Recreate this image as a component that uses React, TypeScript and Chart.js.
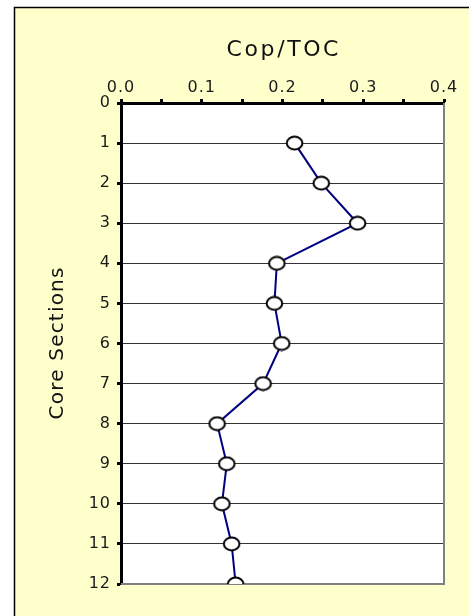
import React, { useEffect, useRef } from 'react';
import { Chart, registerables } from 'chart.js';

Chart.register(...registerables);

// ---- data ----
const sections: number[] = [1, 2, 3, 4, 5, 6, 7, 8, 9, 10, 11, 12];
const copToc: number[] = [0.215, 0.248, 0.293, 0.193, 0.19, 0.199, 0.176, 0.119, 0.131, 0.125, 0.137, 0.142];
const xTickValues: number[] = [0, 0.1, 0.2, 0.3, 0.4];
const xTitle = 'Cop/TOC';
const yTitle = 'Core Sections';

const W = 469;
const H = 616;
const FONT = 'DejaVu Sans';

function makeMarker(): HTMLCanvasElement {
  const c = document.createElement('canvas');
  c.width = 19;
  c.height = 16;
  const g = c.getContext('2d')!;
  g.beginPath();
  g.ellipse(9.5, 8, 7.8, 6.4, 0, 0, Math.PI * 2);
  g.fillStyle = '#ffffff';
  g.fill();
  g.lineWidth = 2;
  g.strokeStyle = '#000000';
  g.stroke();
  return c;
}

const framePlugin = {
  id: 'frame',
  beforeDraw(chart: any) {
    const { ctx, chartArea } = chart;
    ctx.save();
    ctx.fillStyle = '#FFFFCC';
    ctx.fillRect(14, 7, W - 14, H - 7);
    ctx.strokeStyle = '#000000';
    ctx.lineWidth = 1.5;
    ctx.beginPath();
    ctx.moveTo(14.5, H);
    ctx.lineTo(14.5, 7.5);
    ctx.lineTo(W, 7.5);
    ctx.stroke();
    ctx.fillStyle = '#ffffff';
    ctx.fillRect(chartArea.left, chartArea.top, chartArea.right - chartArea.left, chartArea.bottom - chartArea.top);
    ctx.restore();
    ctx.letterSpacing = '1px';
  },
  beforeDatasetsDraw(chart: any) {
    const { ctx, chartArea } = chart;
    ctx.save();
    ctx.strokeStyle = '#808080';
    ctx.lineWidth = 2;
    ctx.beginPath();
    ctx.moveTo(chartArea.left, chartArea.bottom);
    ctx.lineTo(chartArea.right, chartArea.bottom);
    ctx.lineTo(chartArea.right, chartArea.top);
    ctx.stroke();
    ctx.restore();
  },
  afterDraw(chart: any) {
    const { ctx, chartArea } = chart;
    ctx.save();
    ctx.fillStyle = '#111';
    ctx.textAlign = 'center';
    ctx.textBaseline = 'middle';
    // x title
    ctx.font = `22px "${FONT}"`;
    ctx.letterSpacing = '2.6px';
    ctx.fillText(xTitle, (chartArea.left + chartArea.right) / 2 + 1.3, 50);
    // y title
    ctx.font = `20px "${FONT}"`;
    ctx.letterSpacing = '1.2px';
    ctx.translate(58, (chartArea.top + chartArea.bottom) / 2);
    ctx.rotate(-Math.PI / 2);
    ctx.fillText(yTitle, 0.6, 0);
    ctx.restore();
  },
};

export default function App() {
  const ref = useRef<HTMLCanvasElement | null>(null);

  useEffect(() => {
    const canvas = ref.current;
    if (!canvas) return;
    const marker = makeMarker();
    const chart = new Chart(canvas, {
      type: 'line',
      data: {
        datasets: [
          {
            label: xTitle,
            data: sections.map((s, i) => ({ x: copToc[i], y: s })),
            borderColor: '#000080',
            borderWidth: 2,
            pointStyle: marker as any,
            pointRadius: 8,
            tension: 0,
            fill: false,
          },
        ],
      },
      options: {
        responsive: false,
        animation: false,
        devicePixelRatio: 1,
        layout: { padding: { left: 0, top: 0, right: 25, bottom: 32 } },
        plugins: {
          legend: { display: false },
          tooltip: { enabled: false },
        },
        scales: {
          x: {
            type: 'linear',
            position: 'top',
            min: 0,
            max: 0.4,
            afterFit: (s: any) => {
              s.height = 103;
            },
            afterBuildTicks: (s: any) => {
              const t: any[] = [];
              for (let i = 0; i <= 8; i++) t.push({ value: i * 0.05 });
              s.ticks = t;
            },
            ticks: {
              autoSkip: false,
              maxRotation: 0,
              padding: 2,
              color: '#1a1a1a',
              font: { family: FONT, size: 16 },
              callback: (v: any) => {
                const n = Number(v);
                const hit = xTickValues.find((t) => Math.abs(t - n) < 1e-6);
                return hit === undefined ? '' : hit.toFixed(1);
              },
            },
            grid: {
              drawOnChartArea: false,
              drawTicks: true,
              tickLength: 4,
              tickWidth: 3,
              tickColor: '#000',
            },
            border: { display: true, color: '#000', width: 3 },
            title: { display: false },
          },
          y: {
            type: 'linear',
            reverse: true,
            min: 0,
            max: 12,
            afterFit: (s: any) => {
              s.width = 121;
            },
            ticks: {
              stepSize: 1,
              autoSkip: false,
              padding: 6,
              color: '#1a1a1a',
              font: { family: FONT, size: 16 },
            },
            grid: {
              drawOnChartArea: true,
              color: '#333',
              lineWidth: 1,
              drawTicks: true,
              tickLength: 4,
              tickWidth: 3,
              tickColor: '#000',
            },
            border: { display: true, color: '#000', width: 3 },
            title: { display: false },
          },
        },
      },
      plugins: [framePlugin],
    });
    return () => chart.destroy();
  }, []);

  return (
    <div style={{ position: 'absolute', left: 0, top: 0, width: W, height: H }}>
      <canvas ref={ref} width={W} height={H} style={{ width: W, height: H, display: 'block' }} />
    </div>
  );
}
